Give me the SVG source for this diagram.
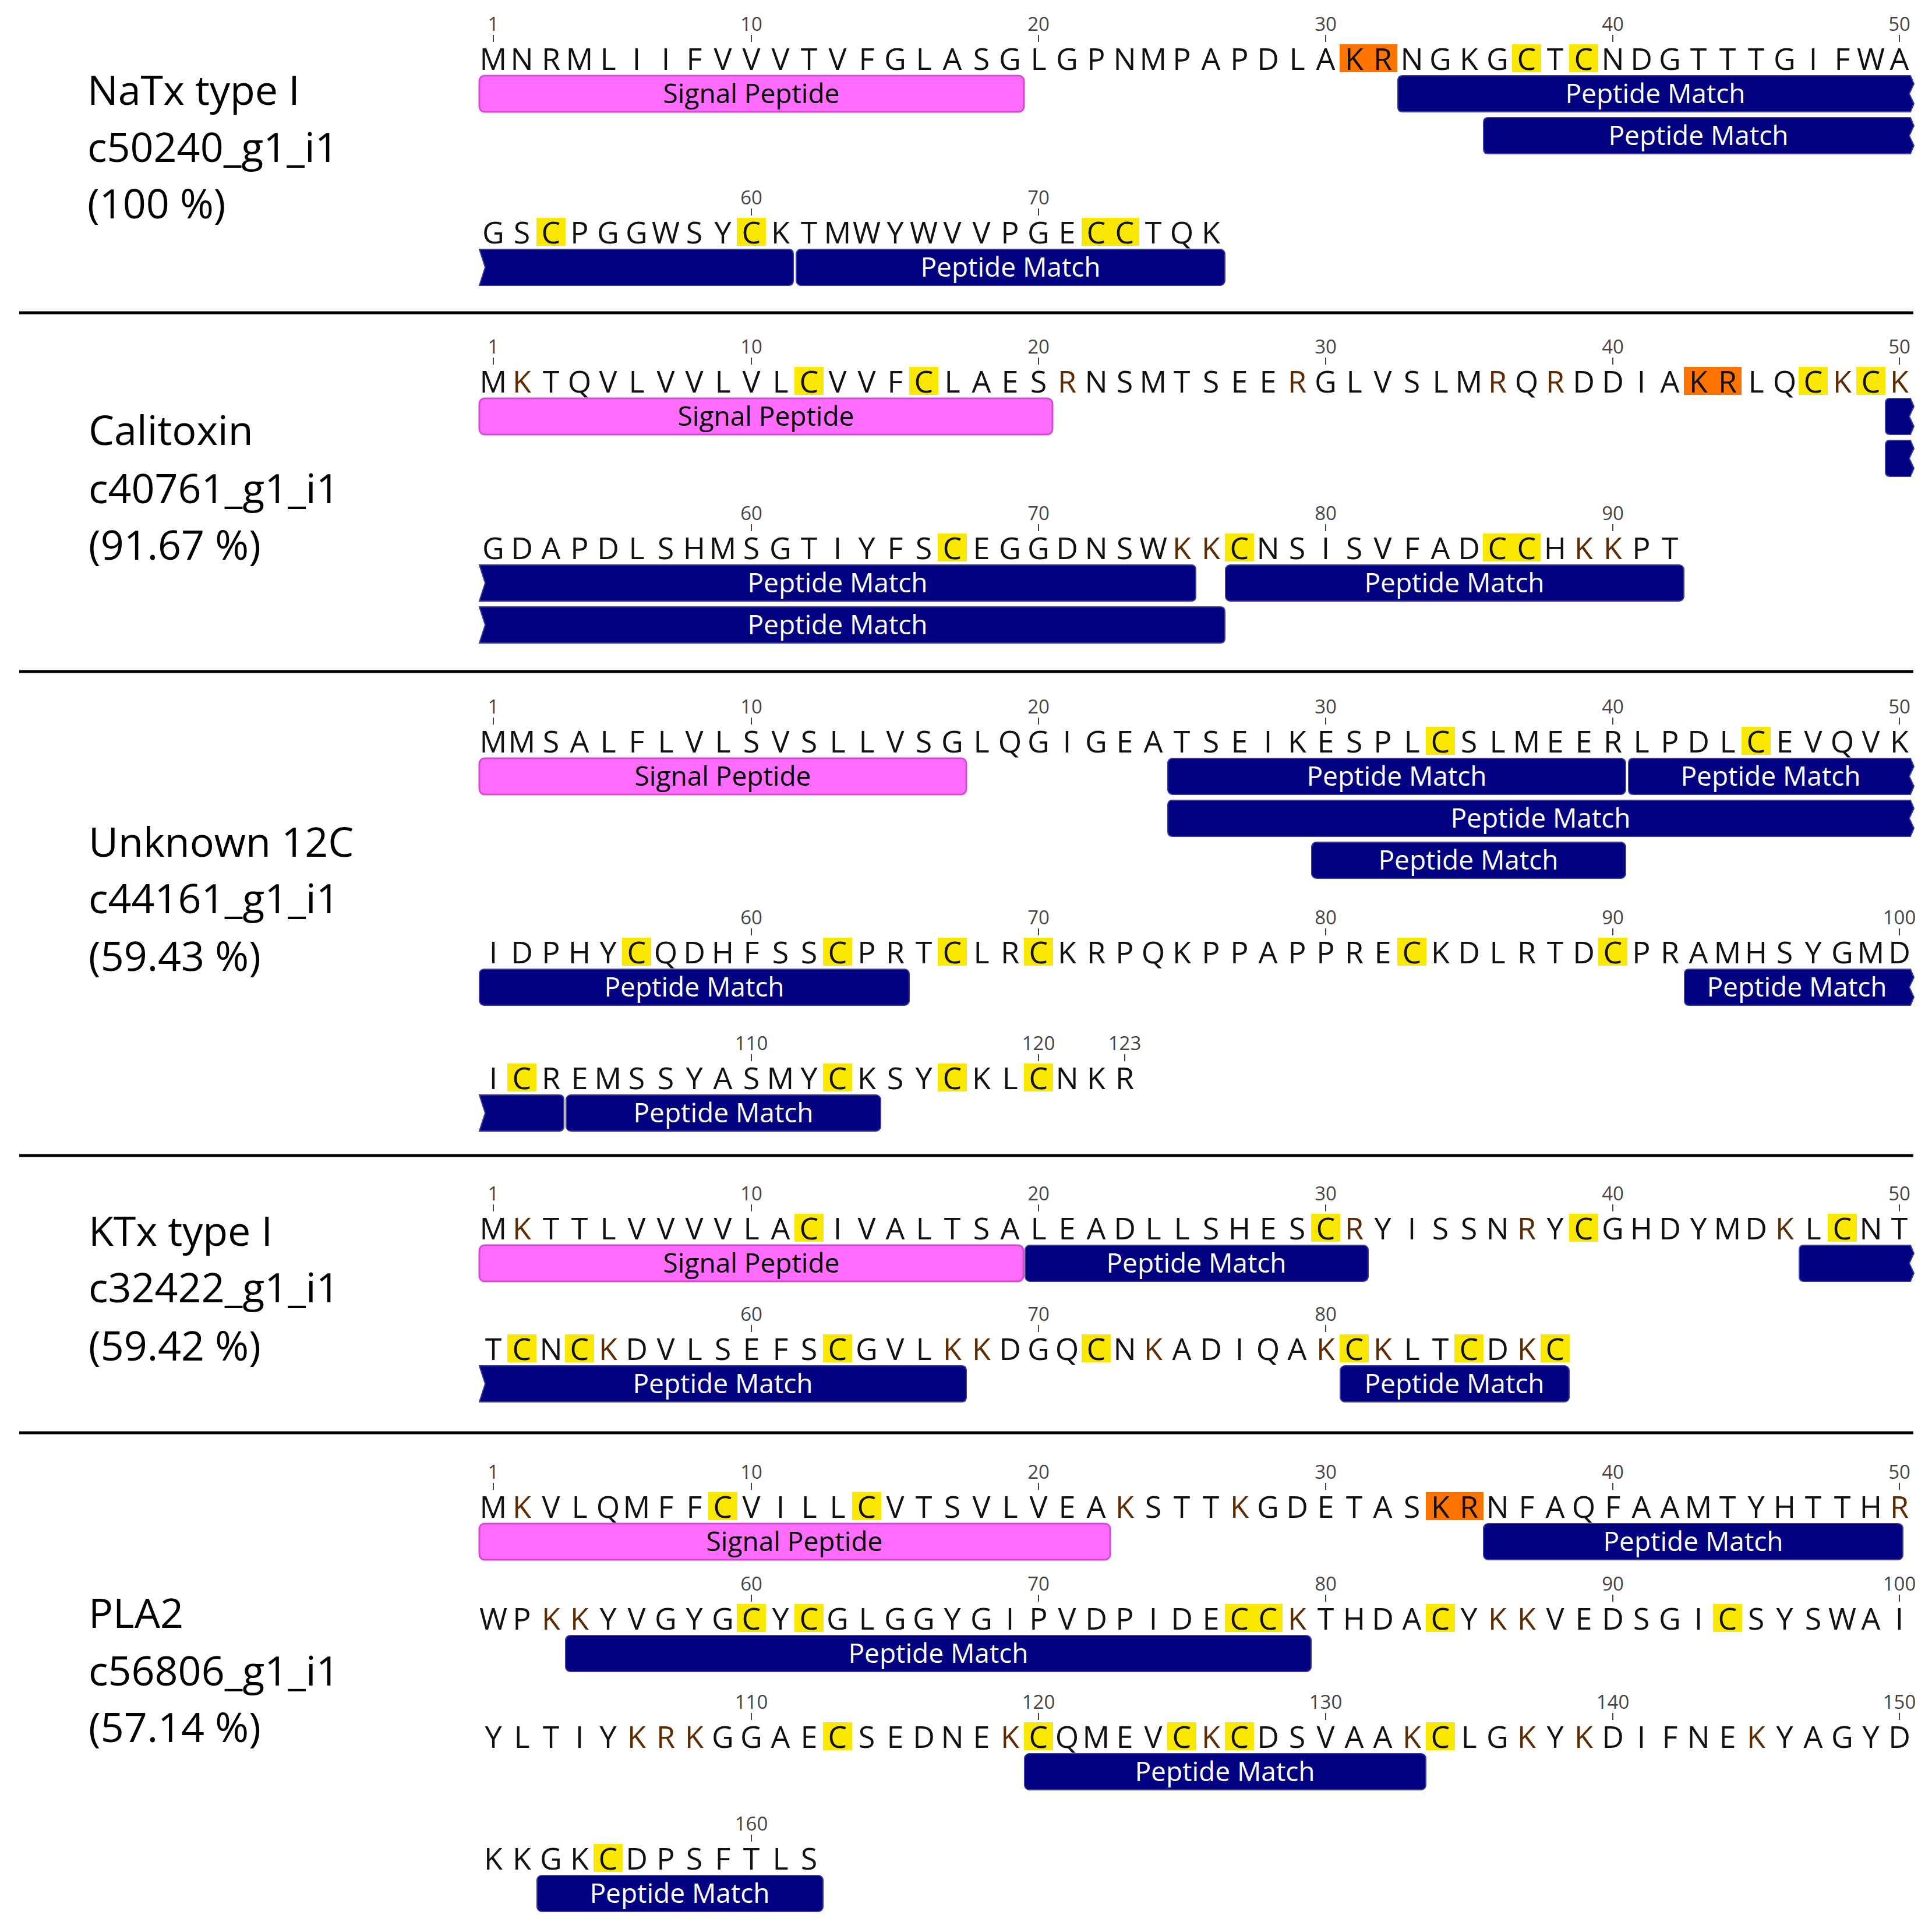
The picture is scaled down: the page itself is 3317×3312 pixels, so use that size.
<svg xmlns="http://www.w3.org/2000/svg" width="3317" height="3312" viewBox="0 0 3317 3312">
<style>
.lab{font-family:"Open Sans","Liberation Sans",sans-serif;font-size:70px;fill:#000}
.seq{font-family:"Open Sans","Liberation Sans",sans-serif;font-size:52px;fill:#111;text-anchor:middle}
.kr{fill:#5e2a00}
.num{font-family:"Open Sans","Liberation Sans",sans-serif;font-size:33px;fill:#444;text-anchor:middle}
.tk{stroke:#444;stroke-width:2}
.y{fill:#fae800}
.o{fill:#ff7300}
.sp{fill:#ff6cff;stroke:#d54bd5;stroke-width:3}
.pm{fill:#000080;stroke:#3a3a9a;stroke-width:2}
.bt{font-family:"Open Sans","Liberation Sans",sans-serif;font-size:46px;text-anchor:middle}
.w{fill:#fff}
.k{fill:#000}
.sep{stroke:#000;stroke-width:5}
</style>
<rect width="3317" height="3312" fill="#fff"/>
<g id="separators">
<line class="sep" x1="33" y1="537" x2="3285" y2="537"/>
<line class="sep" x1="33" y1="1153" x2="3285" y2="1153"/>
<line class="sep" x1="33" y1="1984" x2="3285" y2="1984"/>
<line class="sep" x1="33" y1="2460" x2="3285" y2="2460"/>
</g>

<g id="natx">
<text class="lab" x="150" y="180">NaTx type I</text>
<text class="lab" x="150" y="278">c50240_g1_i1</text>
<text class="lab" x="150" y="375">(100 %)</text>
<rect class="o" x="2300" y="76" width="99" height="48"/>
<rect class="y" x="2596" y="76" width="50" height="48"/>
<rect class="y" x="2694" y="76" width="50" height="48"/>
<rect class="y" x="921" y="374" width="50" height="48"/>
<rect class="y" x="1265" y="374" width="50" height="48"/>
<rect class="y" x="1857" y="374" width="99" height="48"/>
<path class="tk" d="M847 60V72M1290 60V72M1783 60V72M2276 60V72M2769 60V72M3261 60V72M1290 358V370M1783 358V370"/>
<text class="num" y="53"><tspan x="847">1</tspan><tspan x="1290">10</tspan><tspan x="1783">20</tspan><tspan x="2276">30</tspan><tspan x="2769">40</tspan><tspan x="3261">50</tspan></text>
<text class="num" y="351"><tspan x="1290">60</tspan><tspan x="1783">70</tspan></text>
<text class="seq" y="120" x="847 896 946 995 1044 1093 1143 1192 1241 1290 1340 1389 1438 1488 1537 1586 1635 1685 1734 1783 1832 1882 1931 1980 2029 2079 2128 2177 2227 2276 2325 2374 2424 2473 2522 2571 2621 2670 2719 2769 2818 2867 2916 2966 3015 3064 3113 3163 3212 3261">MNRMLIIFVVVTVFGLASGLGPNMPAPDLAKRNGKGCTCNDGTTTGIFWA</text>
<text class="seq" y="418" x="847 896 946 995 1044 1093 1143 1192 1241 1290 1340 1389 1438 1488 1537 1586 1635 1685 1734 1783 1832 1882 1931 1980 2029 2079 2128 2177 2227 2276 2325 2374 2424 2473 2522 2571 2621 2670 2719 2769 2818 2867 2916 2966 3015 3064 3113 3163 3212 3261">GSCPGGWSYCKTMWYWVVPGECCTQK</text>
<rect class="sp" x="823" y="130" width="935" height="62" rx="9"/>
<text class="bt k" x="1290" y="177">Signal Peptide</text>
<path class="pm" d="M2408 130H3280L3286 144L3278 161L3286 178L3280 192H2408Q2400 192 2400 184V138Q2400 130 2408 130Z"/>
<text class="bt w" x="2842" y="177">Peptide Match</text>
<path class="pm" d="M2555 202H3280L3286 216L3278 233L3286 250L3280 264H2555Q2547 264 2547 256V210Q2547 202 2555 202Z"/>
<text class="bt w" x="2916" y="249">Peptide Match</text>
<path class="pm" d="M823 428H1354Q1362 428 1362 436V482Q1362 490 1354 490H823L833 459Z"/>
<rect class="pm" x="1367" y="428" width="736" height="62" rx="8"/>
<text class="bt w" x="1735" y="475">Peptide Match</text>
</g>

<g id="calitoxin">
<text class="lab" x="152" y="764">Calitoxin</text>
<text class="lab" x="152" y="864">c40761_g1_i1</text>
<text class="lab" x="152" y="961">(91.67 %)</text>
<rect class="y" x="1364" y="630" width="50" height="48"/>
<rect class="y" x="1561" y="630" width="50" height="48"/>
<rect class="y" x="3088" y="630" width="50" height="48"/>
<rect class="y" x="3187" y="630" width="50" height="48"/>
<rect class="o" x="2891" y="630" width="99" height="48"/>
<rect class="y" x="1610" y="916" width="50" height="48"/>
<rect class="y" x="2103" y="916" width="50" height="48"/>
<rect class="y" x="2546" y="916" width="99" height="48"/>
<path class="tk" d="M847 614V626M1290 614V626M1783 614V626M2276 614V626M2769 614V626M3261 614V626M1290 900V912M1783 900V912M2276 900V912M2769 900V912"/>
<text class="num" y="607"><tspan x="847">1</tspan><tspan x="1290">10</tspan><tspan x="1783">20</tspan><tspan x="2276">30</tspan><tspan x="2769">40</tspan><tspan x="3261">50</tspan></text>
<text class="num" y="893"><tspan x="1290">60</tspan><tspan x="1783">70</tspan><tspan x="2276">80</tspan><tspan x="2769">90</tspan></text>
<text class="seq" y="674" x="847 896 946 995 1044 1093 1143 1192 1241 1290 1340 1389 1438 1488 1537 1586 1635 1685 1734 1783 1832 1882 1931 1980 2029 2079 2128 2177 2227 2276 2325 2374 2424 2473 2522 2571 2621 2670 2719 2769 2818 2867 2916 2966 3015 3064 3113 3163 3212 3261">M<tspan class="kr">K</tspan>TQVLVVLVLCVVFCLAES<tspan class="kr">R</tspan>NSMTSEE<tspan class="kr">R</tspan>GLVSLM<tspan class="kr">R</tspan>Q<tspan class="kr">R</tspan>DDIAKRLQC<tspan class="kr">K</tspan>C<tspan class="kr">K</tspan></text>
<text class="seq" y="960" x="847 896 946 995 1044 1093 1143 1192 1241 1290 1340 1389 1438 1488 1537 1586 1635 1685 1734 1783 1832 1882 1931 1980 2029 2079 2128 2177 2227 2276 2325 2374 2424 2473 2522 2571 2621 2670 2719 2769 2818 2867 2916 2966 3015 3064 3113 3163 3212 3261">GDAPDLSHMSGTIYFSCEGGDNSW<tspan class="kr">KK</tspan>CNSISVFADCCH<tspan class="kr">KK</tspan>PT</text>
<rect class="sp" x="823" y="684" width="984" height="62" rx="9"/>
<text class="bt k" x="1315" y="731">Signal Peptide</text>
<path class="pm" d="M3245 684H3280L3286 698L3278 715L3286 732L3280 746H3245Q3237 746 3237 738V692Q3237 684 3245 684Z"/>
<path class="pm" d="M3245 756H3280L3286 770L3278 787L3286 804L3280 818H3245Q3237 818 3237 810V764Q3237 756 3245 756Z"/>
<path class="pm" d="M823 970H2045Q2053 970 2053 978V1024Q2053 1032 2045 1032H823L833 1001Z"/>
<text class="bt w" x="1438" y="1017">Peptide Match</text>
<rect class="pm" x="2104" y="970" width="787" height="62" rx="8"/>
<text class="bt w" x="2497" y="1017">Peptide Match</text>
<path class="pm" d="M823 1042H2095Q2103 1042 2103 1050V1096Q2103 1104 2095 1104H823L833 1073Z"/>
<text class="bt w" x="1438" y="1089">Peptide Match</text>
</g>

<g id="unknown12c">
<text class="lab" x="152" y="1471">Unknown 12C</text>
<text class="lab" x="152" y="1568">c44161_g1_i1</text>
<text class="lab" x="152" y="1667">(59.43 %)</text>
<rect class="y" x="2448" y="1248" width="50" height="48"/>
<rect class="y" x="2990" y="1248" width="50" height="48"/>
<rect class="y" x="1068" y="1610" width="50" height="48"/>
<rect class="y" x="1413" y="1610" width="50" height="48"/>
<rect class="y" x="1610" y="1610" width="50" height="48"/>
<rect class="y" x="1758" y="1610" width="50" height="48"/>
<rect class="y" x="2399" y="1610" width="50" height="48"/>
<rect class="y" x="2744" y="1610" width="50" height="48"/>
<rect class="y" x="871" y="1826" width="50" height="48"/>
<rect class="y" x="1413" y="1826" width="50" height="48"/>
<rect class="y" x="1610" y="1826" width="50" height="48"/>
<rect class="y" x="1758" y="1826" width="50" height="48"/>
<path class="tk" d="M847 1232V1244M1290 1232V1244M1783 1232V1244M2276 1232V1244M2769 1232V1244M3261 1232V1244M1290 1594V1606M1783 1594V1606M2276 1594V1606M2769 1594V1606M3261 1594V1606M1290 1810V1822M1783 1810V1822M1931 1810V1822"/>
<text class="num" y="1225"><tspan x="847">1</tspan><tspan x="1290">10</tspan><tspan x="1783">20</tspan><tspan x="2276">30</tspan><tspan x="2769">40</tspan><tspan x="3261">50</tspan></text>
<text class="num" y="1587"><tspan x="1290">60</tspan><tspan x="1783">70</tspan><tspan x="2276">80</tspan><tspan x="2769">90</tspan><tspan x="3261">100</tspan></text>
<text class="num" y="1803"><tspan x="1290">110</tspan><tspan x="1783">120</tspan><tspan x="1931">123</tspan></text>
<text class="seq" y="1292" x="847 896 946 995 1044 1093 1143 1192 1241 1290 1340 1389 1438 1488 1537 1586 1635 1685 1734 1783 1832 1882 1931 1980 2029 2079 2128 2177 2227 2276 2325 2374 2424 2473 2522 2571 2621 2670 2719 2769 2818 2867 2916 2966 3015 3064 3113 3163 3212 3261">MMSALFLVLSVSLLVSGLQGIGEATSEIKESPLCSLMEERLPDLCEVQVK</text>
<text class="seq" y="1654" x="847 896 946 995 1044 1093 1143 1192 1241 1290 1340 1389 1438 1488 1537 1586 1635 1685 1734 1783 1832 1882 1931 1980 2029 2079 2128 2177 2227 2276 2325 2374 2424 2473 2522 2571 2621 2670 2719 2769 2818 2867 2916 2966 3015 3064 3113 3163 3212 3261">IDPHYCQDHFSSCPRTCLRCKRPQKPPAPPRECKDLRTDCPRAMHSYGMD</text>
<text class="seq" y="1870" x="847 896 946 995 1044 1093 1143 1192 1241 1290 1340 1389 1438 1488 1537 1586 1635 1685 1734 1783 1832 1882 1931 1980 2029 2079 2128 2177 2227 2276 2325 2374 2424 2473 2522 2571 2621 2670 2719 2769 2818 2867 2916 2966 3015 3064 3113 3163 3212 3261">ICREMSSYASMYCKSYCKLCNKR</text>
<rect class="sp" x="823" y="1302" width="836" height="62" rx="9"/>
<text class="bt k" x="1241" y="1349">Signal Peptide</text>
<rect class="pm" x="2005" y="1302" width="786" height="62" rx="8"/>
<text class="bt w" x="2398" y="1349">Peptide Match</text>
<path class="pm" d="M2804 1302H3280L3286 1316L3278 1333L3286 1350L3280 1364H2804Q2796 1364 2796 1356V1310Q2796 1302 2804 1302Z"/>
<text class="bt w" x="3040" y="1349">Peptide Match</text>
<path class="pm" d="M2013 1374H3280L3286 1388L3278 1405L3286 1422L3280 1436H2013Q2005 1436 2005 1428V1382Q2005 1374 2013 1374Z"/>
<text class="bt w" x="2645" y="1421">Peptide Match</text>
<rect class="pm" x="2252" y="1446" width="539" height="62" rx="8"/>
<text class="bt w" x="2521" y="1493">Peptide Match</text>
<rect class="pm" x="823" y="1664" width="738" height="62" rx="8"/>
<text class="bt w" x="1192" y="1711">Peptide Match</text>
<path class="pm" d="M2900 1664H3280L3286 1678L3278 1695L3286 1712L3280 1726H2900Q2892 1726 2892 1718V1672Q2892 1664 2900 1664Z"/>
<text class="bt w" x="3085" y="1711">Peptide Match</text>
<path class="pm" d="M823 1880H960Q968 1880 968 1888V1934Q968 1942 960 1942H823L833 1911Z"/>
<rect class="pm" x="972" y="1880" width="540" height="62" rx="8"/>
<text class="bt w" x="1242" y="1927">Peptide Match</text>
</g>

<g id="ktx">
<text class="lab" x="152" y="2139">KTx type I</text>
<text class="lab" x="152" y="2236">c32422_g1_i1</text>
<text class="lab" x="152" y="2336">(59.42 %)</text>
<rect class="y" x="1364" y="2084" width="50" height="48"/>
<rect class="y" x="2251" y="2084" width="50" height="48"/>
<rect class="y" x="2694" y="2084" width="50" height="48"/>
<rect class="y" x="3138" y="2084" width="50" height="48"/>
<rect class="y" x="871" y="2291" width="50" height="48"/>
<rect class="y" x="970" y="2291" width="50" height="48"/>
<rect class="y" x="1413" y="2291" width="50" height="48"/>
<rect class="y" x="1857" y="2291" width="50" height="48"/>
<rect class="y" x="2300" y="2291" width="50" height="48"/>
<rect class="y" x="2497" y="2291" width="50" height="48"/>
<rect class="y" x="2645" y="2291" width="50" height="48"/>
<path class="tk" d="M847 2068V2080M1290 2068V2080M1783 2068V2080M2276 2068V2080M2769 2068V2080M3261 2068V2080M1290 2275V2287M1783 2275V2287M2276 2275V2287"/>
<text class="num" y="2061"><tspan x="847">1</tspan><tspan x="1290">10</tspan><tspan x="1783">20</tspan><tspan x="2276">30</tspan><tspan x="2769">40</tspan><tspan x="3261">50</tspan></text>
<text class="num" y="2268"><tspan x="1290">60</tspan><tspan x="1783">70</tspan><tspan x="2276">80</tspan></text>
<text class="seq" y="2128" x="847 896 946 995 1044 1093 1143 1192 1241 1290 1340 1389 1438 1488 1537 1586 1635 1685 1734 1783 1832 1882 1931 1980 2029 2079 2128 2177 2227 2276 2325 2374 2424 2473 2522 2571 2621 2670 2719 2769 2818 2867 2916 2966 3015 3064 3113 3163 3212 3261">M<tspan class="kr">K</tspan>TTLVVVVLACIVALTSALEADLLSHESC<tspan class="kr">R</tspan>YISSN<tspan class="kr">R</tspan>YCGHDYMD<tspan class="kr">K</tspan>LCNT</text>
<text class="seq" y="2335" x="847 896 946 995 1044 1093 1143 1192 1241 1290 1340 1389 1438 1488 1537 1586 1635 1685 1734 1783 1832 1882 1931 1980 2029 2079 2128 2177 2227 2276 2325 2374 2424 2473 2522 2571 2621 2670 2719 2769 2818 2867 2916 2966 3015 3064 3113 3163 3212 3261">TCNC<tspan class="kr">K</tspan>DVLSEFSCGVL<tspan class="kr">KK</tspan>DGQCN<tspan class="kr">K</tspan>ADIQA<tspan class="kr">K</tspan>C<tspan class="kr">K</tspan>LTCD<tspan class="kr">K</tspan>C</text>
<rect class="sp" x="823" y="2138" width="934" height="62" rx="9"/>
<text class="bt k" x="1290" y="2185">Signal Peptide</text>
<rect class="pm" x="1760" y="2138" width="589" height="62" rx="8"/>
<text class="bt w" x="2054" y="2185">Peptide Match</text>
<path class="pm" d="M3097 2138H3280L3286 2152L3278 2169L3286 2186L3280 2200H3097Q3089 2200 3089 2192V2146Q3089 2138 3097 2138Z"/>
<path class="pm" d="M823 2345H1651Q1659 2345 1659 2353V2399Q1659 2407 1651 2407H823L833 2376Z"/>
<text class="bt w" x="1241" y="2392">Peptide Match</text>
<rect class="pm" x="2301" y="2345" width="393" height="62" rx="8"/>
<text class="bt w" x="2497" y="2392">Peptide Match</text>
</g>

<g id="pla2">
<text class="lab" x="152" y="2795">PLA2</text>
<text class="lab" x="152" y="2894">c56806_g1_i1</text>
<text class="lab" x="152" y="2991">(57.14 %)</text>
<rect class="y" x="1216" y="2562" width="50" height="48"/>
<rect class="y" x="1463" y="2562" width="50" height="48"/>
<rect class="o" x="2448" y="2562" width="99" height="48"/>
<rect class="y" x="1265" y="2754" width="50" height="48"/>
<rect class="y" x="1364" y="2754" width="50" height="48"/>
<rect class="y" x="2103" y="2754" width="99" height="48"/>
<rect class="y" x="2448" y="2754" width="50" height="48"/>
<rect class="y" x="2941" y="2754" width="50" height="48"/>
<rect class="y" x="1413" y="2957" width="50" height="48"/>
<rect class="y" x="1758" y="2957" width="50" height="48"/>
<rect class="y" x="2004" y="2957" width="50" height="48"/>
<rect class="y" x="2103" y="2957" width="50" height="48"/>
<rect class="y" x="2448" y="2957" width="50" height="48"/>
<rect class="y" x="1019" y="3166" width="50" height="48"/>
<path class="tk" d="M847 2546V2558M1290 2546V2558M1783 2546V2558M2276 2546V2558M2769 2546V2558M3261 2546V2558M1290 2738V2750M1783 2738V2750M2276 2738V2750M2769 2738V2750M3261 2738V2750M1290 2941V2953M1783 2941V2953M2276 2941V2953M2769 2941V2953M3261 2941V2953M1290 3150V3162"/>
<text class="num" y="2539"><tspan x="847">1</tspan><tspan x="1290">10</tspan><tspan x="1783">20</tspan><tspan x="2276">30</tspan><tspan x="2769">40</tspan><tspan x="3261">50</tspan></text>
<text class="num" y="2731"><tspan x="1290">60</tspan><tspan x="1783">70</tspan><tspan x="2276">80</tspan><tspan x="2769">90</tspan><tspan x="3261">100</tspan></text>
<text class="num" y="2934"><tspan x="1290">110</tspan><tspan x="1783">120</tspan><tspan x="2276">130</tspan><tspan x="2769">140</tspan><tspan x="3261">150</tspan></text>
<text class="num" y="3143"><tspan x="1290">160</tspan></text>
<text class="seq" y="2606" x="847 896 946 995 1044 1093 1143 1192 1241 1290 1340 1389 1438 1488 1537 1586 1635 1685 1734 1783 1832 1882 1931 1980 2029 2079 2128 2177 2227 2276 2325 2374 2424 2473 2522 2571 2621 2670 2719 2769 2818 2867 2916 2966 3015 3064 3113 3163 3212 3261">M<tspan class="kr">K</tspan>VLQMFFCVILLCVTSVLVEA<tspan class="kr">K</tspan>STT<tspan class="kr">K</tspan>GDETASKRNFAQFAAMTYHTTH<tspan class="kr">R</tspan></text>
<text class="seq" y="2798" x="847 896 946 995 1044 1093 1143 1192 1241 1290 1340 1389 1438 1488 1537 1586 1635 1685 1734 1783 1832 1882 1931 1980 2029 2079 2128 2177 2227 2276 2325 2374 2424 2473 2522 2571 2621 2670 2719 2769 2818 2867 2916 2966 3015 3064 3113 3163 3212 3261">WP<tspan class="kr">KK</tspan>YVGYGCYCGLGGYGIPVDPIDECC<tspan class="kr">K</tspan>THDACY<tspan class="kr">KK</tspan>VEDSGICSYSWAI</text>
<text class="seq" y="3001" x="847 896 946 995 1044 1093 1143 1192 1241 1290 1340 1389 1438 1488 1537 1586 1635 1685 1734 1783 1832 1882 1931 1980 2029 2079 2128 2177 2227 2276 2325 2374 2424 2473 2522 2571 2621 2670 2719 2769 2818 2867 2916 2966 3015 3064 3113 3163 3212 3261">YLTIY<tspan class="kr">KRK</tspan>GGAECSEDNE<tspan class="kr">K</tspan>CQMEVC<tspan class="kr">K</tspan>CDSVAA<tspan class="kr">K</tspan>CLG<tspan class="kr">K</tspan>Y<tspan class="kr">K</tspan>DIFNE<tspan class="kr">K</tspan>YAGYD</text>
<text class="seq" y="3210" x="847 896 946 995 1044 1093 1143 1192 1241 1290 1340 1389">KKGKCDPSFTLS</text>
<rect class="sp" x="823" y="2616" width="1083" height="62" rx="9"/>
<text class="bt k" x="1364" y="2663">Signal Peptide</text>
<rect class="pm" x="2547" y="2616" width="720" height="62" rx="8"/>
<text class="bt w" x="2907" y="2663">Peptide Match</text>
<rect class="pm" x="971" y="2808" width="1280" height="62" rx="8"/>
<text class="bt w" x="1611" y="2855">Peptide Match</text>
<rect class="pm" x="1759" y="3011" width="689" height="62" rx="8"/>
<text class="bt w" x="2103" y="3058">Peptide Match</text>
<rect class="pm" x="922" y="3220" width="491" height="62" rx="8"/>
<text class="bt w" x="1167" y="3267">Peptide Match</text>
</g>
</svg>
